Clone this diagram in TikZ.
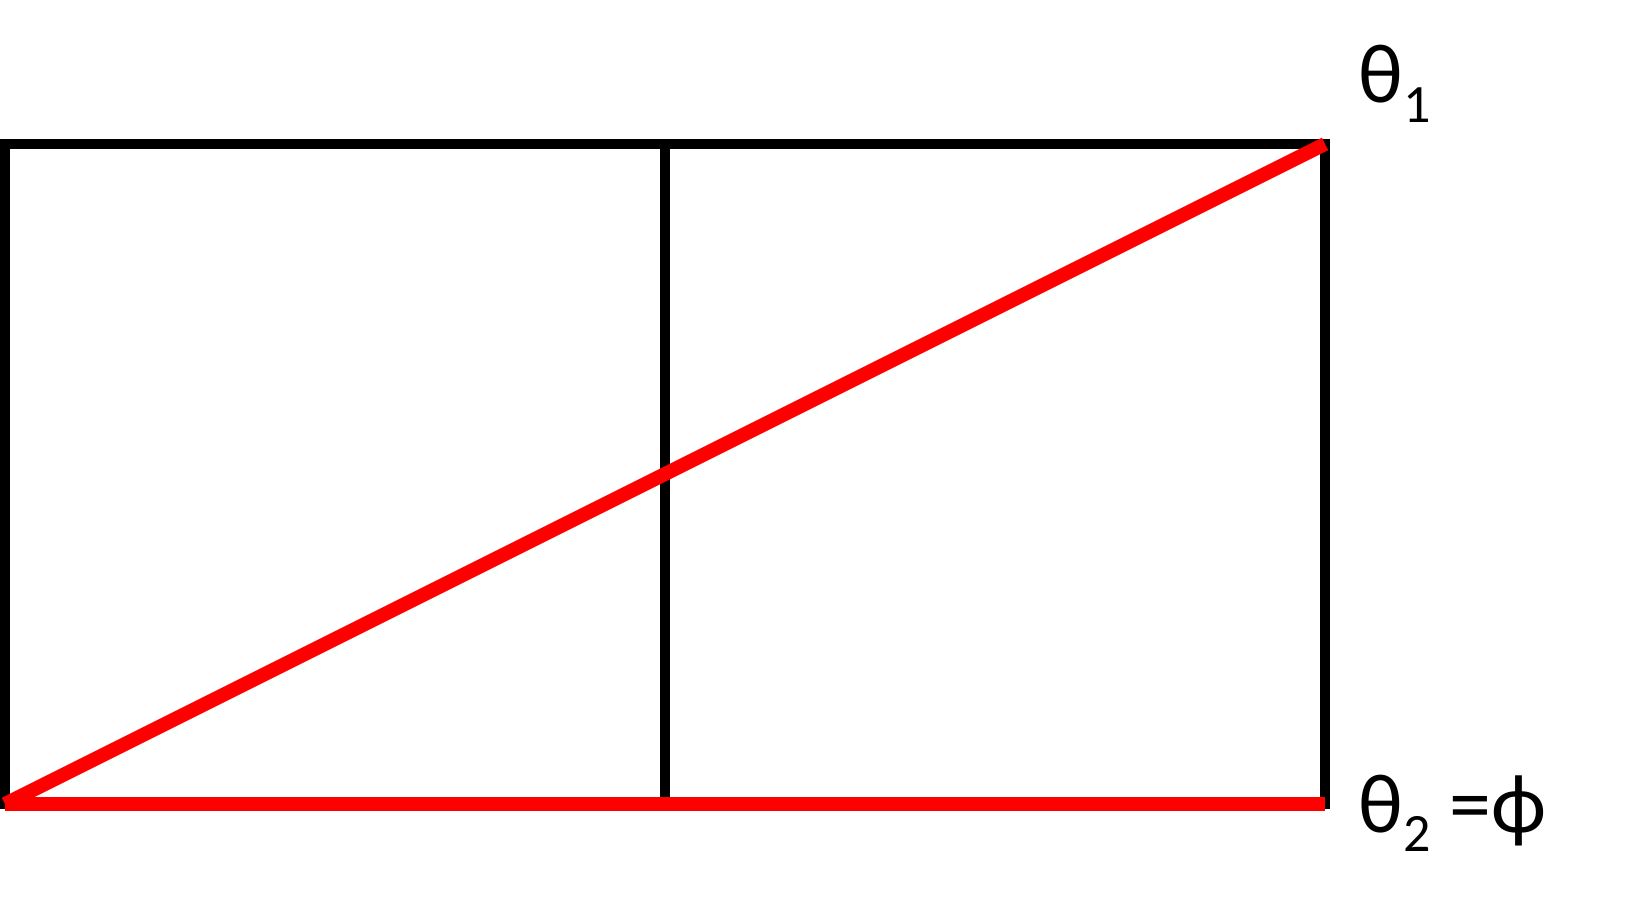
\documentclass[tikz,border=0pt]{standalone}
\usepackage{fontspec}
\setmainfont{Carlito}
\newcommand{\bigfont}{\fontsize{42}{48}\selectfont}
\newcommand{\subfont}[1]{{\fontsize{27}{30}\selectfont\raisebox{-9.5pt}{#1}}}
\begin{document}
\begin{tikzpicture}[x=0.5pt,y=-0.5pt]

    \useasboundingbox (0,0) rectangle (1632,904);

    \coordinate (bl) at (5,804);
    \coordinate (tl) at (5,144);
    \coordinate (tr) at (1325,144);
    \coordinate (br) at (1325,804);
    \coordinate (mt) at (665,144);
    \coordinate (mb) at (665,804);

    \draw[line width=5pt] (bl) -- (tl) -- (tr) -- (br) -- cycle;
    \draw[line width=5pt] (mt) -- (mb);

    \draw[line width=7pt, color=red] (bl) -- (br);
    \draw[line width=7pt, color=red] (bl) -- (tr);

    \node[anchor=base west, inner sep=0] (thetaone) at (1358,103)
        {\bigfont θ\subfont{1}};
    \node[anchor=base west, inner sep=0] (thetatwo) at (1358,832)
        {\bigfont θ\subfont{2} =ϕ};

\end{tikzpicture}
\end{document}
